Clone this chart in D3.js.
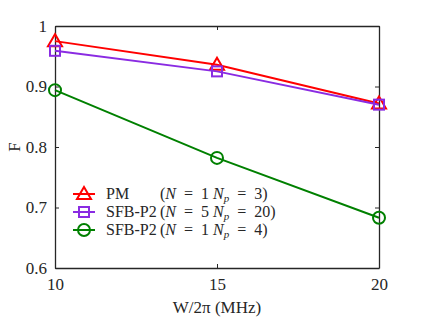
<!DOCTYPE html>
<html>
<head>
<meta charset="utf-8">
<script src="https://cdn.jsdelivr.net/npm/d3@7"></script>
<style>
  body { margin: 0; background: #fff; }
  text { font-family: "Liberation Serif", "DejaVu Serif", serif; }
</style>
</head>
<body>
<div id="chart"></div>
<script>
// data
const bandwidth = [10, 15, 20];
const pmValues = [0.975, 0.936, 0.872];
const sfbN5Values = [0.959, 0.925, 0.870];
const sfbN1Values = [0.894, 0.782, 0.683];
const xTicks = [10, 15, 20];
const yTicks = [0.6, 0.7, 0.8, 0.9, 1];

const series = [
  { name: "PM", note: ["(", "N", "\u2002=\u20021 ", "N", "p", "\u2002=\u20023)"], values: pmValues, color: "#ff0000", marker: "triangle" },
  { name: "SFB-P2", note: ["(", "N", "\u2002=\u20025 ", "N", "p", "\u2002=\u200220)"], values: sfbN5Values, color: "#8a2be2", marker: "square" },
  { name: "SFB-P2", note: ["(", "N", "\u2002=\u20021 ", "N", "p", "\u2002=\u20024)"], values: sfbN1Values, color: "#008000", marker: "circle" }
];

const margin = { top: 26, right: 57, bottom: 52, left: 55 };
const width = 436 - margin.left - margin.right;
const height = 320 - margin.top - margin.bottom;

const svg = d3.select("#chart")
  .append("svg")
    .attr("width", 436)
    .attr("height", 320)
  .append("g")
    .attr("transform", `translate(${margin.left},${margin.top})`);

const x = d3.scaleLinear().domain([10, 20]).range([0, width]);
const y = d3.scaleLinear().domain([0.6, 1]).range([height, 0]);

const axisColor = "#262626";

// axes (ticks inside)
const xAxis = svg.append("g")
  .attr("transform", `translate(0,${height})`)
  .call(d3.axisBottom(x).tickValues(xTicks).tickSizeInner(-4).tickSizeOuter(0).tickPadding(10));
const yAxis = svg.append("g")
  .call(d3.axisLeft(y).tickValues(yTicks).tickFormat(d => d === 1 ? "1" : d3.format(".1f")(d)).tickSizeInner(-4).tickSizeOuter(0).tickPadding(8));
const yAxisR = svg.append("g")
  .attr("transform", `translate(${width},0)`)
  .call(d3.axisRight(y).tickValues(yTicks).tickFormat("").tickSizeInner(-4).tickSizeOuter(0));
const xAxisT = svg.append("g")
  .call(d3.axisTop(x).tickValues(xTicks).tickFormat("").tickSizeInner(-4).tickSizeOuter(0));

[xAxis, yAxis, yAxisR, xAxisT].forEach(a => {
  a.selectAll("path").attr("stroke", axisColor).attr("stroke-width", 1.3);
  a.selectAll("line").attr("stroke", axisColor);
  a.selectAll("text").attr("fill", axisColor).style("font-size", "17px").style("font-family", "Liberation Serif, serif");
});

// axis labels
svg.append("text")
  .attr("x", width / 2)
  .attr("y", height + 45)
  .attr("text-anchor", "middle")
  .attr("fill", axisColor)
  .style("font-size", "17px")
  .text("W/2\u03C0 (MHz)");

svg.append("text")
  .attr("transform", `translate(-35,${height / 2}) rotate(-90)`)
  .attr("text-anchor", "middle")
  .attr("fill", axisColor)
  .style("font-size", "17px")
  .text("F");

// marker drawing
function drawMarker(g, type, color) {
  if (type === "triangle") {
    g.append("path").attr("d", "M0,-7 L7,5 L-7,5 Z");
  } else if (type === "square") {
    g.append("rect").attr("x", -5).attr("y", -5).attr("width", 10).attr("height", 10);
  } else {
    g.append("circle").attr("r", 6);
  }
  g.selectAll("*").attr("fill", "none").attr("stroke", color).attr("stroke-width", 2);
}

const line = d3.line()
  .x((d, i) => x(bandwidth[i]))
  .y(d => y(d));

series.forEach(s => {
  svg.append("path")
    .datum(s.values)
    .attr("d", line)
    .attr("fill", "none")
    .attr("stroke", s.color)
    .attr("stroke-width", 2);
  s.values.forEach((v, i) => {
    const g = svg.append("g").attr("transform", `translate(${x(bandwidth[i])},${y(v)})`);
    drawMarker(g, s.marker, s.color);
  });
});

// legend
const legend = svg.append("g").attr("transform", "translate(18,168)");
series.forEach((s, i) => {
  const row = legend.append("g").attr("transform", `translate(0,${i * 18})`);
  row.append("line")
    .attr("x1", 0).attr("x2", 22)
    .attr("stroke", s.color).attr("stroke-width", 2);
  drawMarker(row.append("g").attr("transform", "translate(11,0)"), s.marker, s.color);
  row.append("text")
    .attr("x", 33).attr("y", 5)
    .attr("fill", axisColor)
    .style("font-size", "16px")
    .text(s.name);
  const t = row.append("text")
    .attr("x", 87).attr("y", 5)
    .attr("fill", axisColor)
    .style("font-size", "16px");
  t.append("tspan").text(s.note[0]);
  t.append("tspan").style("font-style", "italic").text(s.note[1]);
  t.append("tspan").text(s.note[2]);
  t.append("tspan").style("font-style", "italic").text(s.note[3]);
  t.append("tspan").style("font-style", "italic").style("font-size", "11px").attr("dy", 3).text(s.note[4]);
  t.append("tspan").attr("dy", -3).text(s.note[5]);
});
</script>
</body>
</html>
